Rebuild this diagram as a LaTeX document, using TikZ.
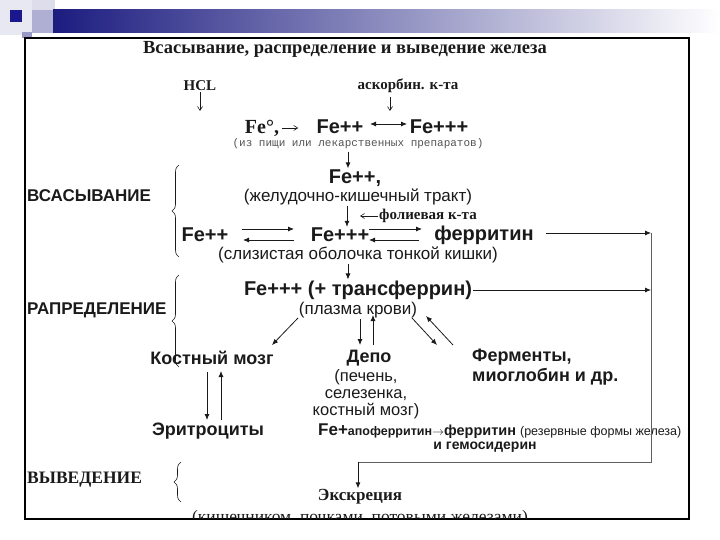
\documentclass[tikz,border=0pt]{standalone}
\usepackage{fontspec}
\setmainfont{Liberation Serif}
\setsansfont{Liberation Sans}
\setmonofont{Liberation Mono}
\usetikzlibrary{arrows.meta,positioning,decorations.pathreplacing}
\definecolor{navy}{HTML}{1C1C80}
\definecolor{ink}{HTML}{1A1A1A}

\begin{document}
\begin{tikzpicture}[x=1pt,y=-1pt,
  chem/.style={font=\sffamily\bfseries\fontsize{20}{22}\selectfont,inner sep=1pt,text=ink},
  organ/.style={font=\sffamily\bfseries\fontsize{18}{20}\selectfont,inner sep=1pt,text=ink},
  note/.style={font=\sffamily\fontsize{17}{19.5}\selectfont,inner sep=1pt,text=ink},
  serb/.style={font=\bfseries\fontsize{15}{17}\selectfont,inner sep=1pt,text=ink},
  stage/.style={font=\sffamily\bfseries\fontsize{17}{19}\selectfont,inner sep=1pt,text=ink},
  arr/.style={-{Latex[length=6pt,width=5pt]},draw=ink,line width=0.8pt},
  tarr/.style={-{Straight Barb[length=4pt,width=5pt]},draw=ink,line width=0.6pt},
  brc/.style={decorate,decoration={brace,amplitude=7pt},draw=ink,line width=0.6pt}]
\useasboundingbox (0,0) rectangle (720,540);
% slide header
\fill[navy!10] (0,0) rectangle (32,35);
\fill[navy!15] (32,0) rectangle (55,10);
\fill[navy!35] (32,10) rectangle (53,33);
\shade[left color=navy,right color=white] (53,10) rectangle (720,33);
\fill[navy!45] (22,32) rectangle (32,38);
\fill[navy!90!blue] (10,10) rectangle (22,22);
\draw[line width=1.2pt] (25,38) rectangle (689,519);
\node[font=\bfseries\fontsize{18.5}{21}\selectfont,text=ink] (title) at (345,49) {Всасывание, распределение и выведение железа};

% stage labels
\node[stage,anchor=west] (vsas) at (26,196) {ВСАСЫВАНИЕ};
\node[stage,anchor=west] (rasp) at (26,310) {РАПРЕДЕЛЕНИЕ};
\node[font=\bfseries\fontsize{17.5}{19}\selectfont,anchor=west,inner sep=1pt,text=ink] (vyv) at (26,480) {ВЫВЕДЕНИЕ};
\draw[brc] (179,257) -- (179,165);
\draw[brc] (179,367) -- (179,275);
\draw[brc] (181,502) -- (181,462);

% absorption
\node[serb] (hcl) at (200,86) {HCL};
\node[serb] (asc) at (408,86) {аскорбин. к-та};
\node[serb,font=\bfseries\fontsize{20}{22}\selectfont] (fe0) at (262,128) {Fe°,};
\node[chem] (fe2a) at (340,127) {Fe++};
\node[chem] (fe3a) at (439,127) {Fe+++};
\node[font=\ttfamily\fontsize{11}{13}\selectfont,text=ink!75] (food) at (358,144) {(из пищи или лекарственных препаратов)};
\node[chem] (fe2b) at (355,178) {Fe++,};
\node[note] (git) at (358,197) {(желудочно-кишечный тракт)};
\node[serb] (fol) at (428,216) {фолиевая к-та};
\node[chem] (fe2c) at (205,235) {Fe++};
\node[chem] (fe3c) at (340,235) {Fe+++};
\node[chem] (fer) at (484,235) {ферритин};
\node[note] (muc) at (358,255) {(слизистая оболочка тонкой кишки)};
\coordinate (hclend) at (200,111);
\coordinate (ascend) at (390,111);
\coordinate (folend) at (360,216);
\draw[tarr] (hcl.south) -- (hclend);
\draw[tarr] (390,97) -- (ascend);
\draw[tarr] (fe0.east) ++(2,0) -- ++(16,0);
\draw[{Latex[length=6pt,width=5pt]}-{Latex[length=6pt,width=5pt]},draw=ink,line width=0.8pt] (370,124) -- (407,124);
\draw[tarr] (fol.west) -- (folend);
\draw[arr] (348,152) -- (fe2b.north -| 348,0);
\draw[arr] (git.south -| 347,0) -- (fe3c.north -| 347,0);
\draw[arr] (242,229) -- (294,229);
\draw[arr] (294,240) -- (243,240);
\draw[arr] (369,229) -- (422,229);
\draw[arr] (419,240) -- (369,240);

% distribution
\node[chem] (tf) at (358,290) {Fe+++ (+ трансферрин)};
\node[note] (plasma) at (358,310) {(плазма крови)};
\node[organ] (bone) at (212,358) {Костный мозг};
\node[organ] (depo) at (369,358) {Депо};
\node[note,font=\sffamily\fontsize{16.5}{17}\selectfont,align=center] (depo2) at (366,394) {(печень,\\селезенка,\\костный мозг)};
\node[organ,align=left,anchor=west] (enz) at (471,367) {Ферменты,\\миоглобин и др.};
\node[organ] (ery) at (208,431) {Эритроциты};
\node[anchor=west,inner sep=1pt,text=ink] (res) at (317,431) {\sffamily\bfseries\fontsize{17}{19}\selectfont Fe+\fontsize{12.5}{14}\selectfont апоферритин\(\rightarrow\)\fontsize{14.5}{16}\selectfont ферритин \mdseries\fontsize{12.5}{15}\selectfont(резервные формы железа)};
\node[inner sep=1pt,text=ink,font=\sffamily\bfseries\fontsize{14}{16}\selectfont] (hemo) at (485,447) {и гемосидерин};
\coordinate (rtop) at (651,233);
\coordinate (rmid) at (651,290);
\coordinate (rbot) at (651,462);
\coordinate (lbot) at (358,462);
\draw[arr] (muc.south -| 348,0) -- (tf.north -| 348,0);
\draw[arr] (546,233) -- (rtop);
\draw[arr] (tf.east) -- (rmid);
\draw[draw=ink!70,line width=0.8pt] (rtop) -- (rbot) -- (lbot);
\draw[arr] (298,318) -- (272,345);
\draw[arr] (360,319) -- (360,345);
\draw[arr] (373,345) -- (373,315);
\draw[arr] (412,318) -- (437,345);
\draw[arr] (453,345) -- (426,316);
\draw[arr] (207,372) -- (207,420);
\draw[arr] (221,420) -- (221,371);

% excretion
\node[font=\bfseries\fontsize{17}{19}\selectfont,text=ink,inner sep=1pt] (exc) at (360,497) {Экскреция};
\draw[arr] (lbot) -- (exc.north -| lbot);
\begin{scope}
\clip (25,38) rectangle (689,518);
\node[font=\fontsize{17.5}{19}\selectfont,text=ink,anchor=base] (excway) at (360,522) {(кишечником, почками, потовыми железами)};
\end{scope}
\end{tikzpicture}
\end{document}
